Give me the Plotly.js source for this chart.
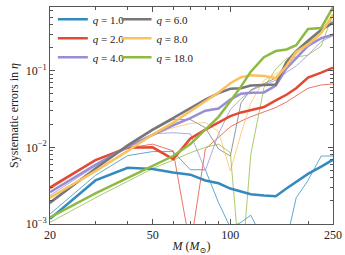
<!DOCTYPE html>
<html><head><meta charset="utf-8">
<script src="https://cdn.plot.ly/plotly-3.0.1.min.js"></script>
<style>html,body{margin:0;padding:0;background:#fff}#chart{width:345px;height:255px}</style>
</head><body><div id="chart"></div>
<script>
const masses = [20,30,40,50,60,70,80,90,100,110,120,135,150,165,180,200,225,250];
const qLabels = ["1.0","2.0","4.0","6.0","8.0","18.0"];
const colors = ["#348ABD","#E24A33","#988ED5","#777777","#FBC15E","#8EBA42"];

const q1_thick = [1.17e-3,3.7e-3,5.4e-3,5.2e-3,4.7e-3,4.4e-3,3.7e-3,3.4e-3,2.9e-3,2.65e-3,2.45e-3,2.35e-3,2.3e-3,2.9e-3,3.5e-3,4.5e-3,5.6e-3,6.9e-3];
const q1_thin  = [1.35e-3,4.3e-3,7.8e-3,8.8e-3,8.8e-3,5.1e-3,5.1e-3,1.9e-3,9e-4,1.05e-3,1.3e-3,6e-4,5e-4,6e-4,2.2e-3,3.7e-3,7.7e-3,7.7e-3];
const q2_thick = [3.0e-3,6.8e-3,9.9e-3,1.0e-2,7.0e-3,1.3e-2,1.7e-2,2.1e-2,2.55e-2,2.85e-2,3.05e-2,3.35e-2,4.1e-2,4.85e-2,5.9e-2,8.1e-2,9.4e-2,1.09e-1];
const q2_thin  = [2.85e-3,6.7e-3,9.8e-3,1.1e-2,9.0e-3,5e-4,9.5e-3,1.35e-2,1.85e-2,2.2e-2,2.5e-2,2.9e-2,3.3e-2,3.9e-2,4.7e-2,5.9e-2,6.5e-2,6.7e-2];
const q4_thick = [2.6e-3,5.9e-3,1.02e-2,1.47e-2,1.94e-2,2.4e-2,3.0e-2,3.2e-2,4.2e-2,5.0e-2,5.15e-2,5.2e-2,6.4e-2,1.07e-1,1.45e-1,2.1e-1,2.65e-1,2.95e-1];
const q4_thin  = [2.35e-3,5.7e-3,9.8e-3,1.5e-2,1.55e-2,1.5e-2,5.0e-3,1.5e-2,3.1e-2,4.3e-2,5.5e-2,6.5e-2,7.5e-2,9.5e-2,1.15e-1,1.6e-1,2.4e-1,2.85e-1];
const q6_thick = [1.9e-3,5.3e-3,1.06e-2,1.7e-2,2.4e-2,3.2e-2,4.2e-2,5.1e-2,5.8e-2,5.9e-2,6.4e-2,6.5e-2,6.6e-2,1.3e-1,1.8e-1,2.45e-1,3.4e-1,4.2e-1];
const q6_thin  = [1.85e-3,5.2e-3,1.04e-2,1.65e-2,2.3e-2,2.3e-2,1.8e-2,9.5e-3,7.7e-3,3.8e-2,5.6e-2,6.7e-2,8.0e-2,1.1e-1,1.7e-1,2.3e-1,3.3e-1,4.5e-1];
const q8_thick = [2.2e-3,4.9e-3,9.0e-3,1.47e-2,2.1e-2,2.95e-2,3.97e-2,5.2e-2,6.85e-2,8.2e-2,8.7e-2,8.5e-2,8.0e-2,1.15e-1,1.75e-1,2.2e-1,3.1e-1,5.4e-1];
const q8_thin  = [2.15e-3,4.8e-3,8.8e-3,1.45e-2,1.8e-2,2.05e-2,2.1e-2,1.6e-2,4.9e-3,1.5e-2,3.8e-2,7.5e-2,9.0e-2,1.15e-1,1.6e-1,2.1e-1,3.0e-1,5.0e-1];
const q18_thick = [1.22e-3,2.5e-3,4.0e-3,5.8e-3,7.7e-3,1.1e-2,1.7e-2,2.5e-2,4.0e-2,6.2e-2,9.7e-2,1.5e-1,1.8e-1,1.89e-1,2.15e-1,3.5e-1,3.6e-1,6.7e-1];
const q18_thin  = [1.05e-3,2.2e-3,3.6e-3,5.3e-3,6.8e-3,8.5e-3,1.0e-2,1.1e-2,8.5e-3,2e-4,8e-3,6e-2,1.05e-1,1.45e-1,1.5e-1,1.6e-1,2.1e-1,5.5e-1];

const thick = [q1_thick,q2_thick,q4_thick,q6_thick,q8_thick,q18_thick];
const thin  = [q1_thin,q2_thin,q4_thin,q6_thin,q8_thin,q18_thin];

const traces = [];
thin.forEach((ys,i)=>traces.push({x:masses,y:ys,mode:'lines',line:{color:colors[i],width:0.9},opacity:0.85,showlegend:false,hoverinfo:'skip'}));
thick.forEach((ys,i)=>traces.push({x:masses,y:ys,mode:'lines',line:{color:colors[i],width:2.5},name:'<i>q</i> = '+qLabels[i],legend: i<3?'legend':'legend2'}));

const font = {family:'Liberation Serif, DejaVu Serif, serif', size:12, color:'#222'};
const legendBase = {bgcolor:'rgba(0,0,0,0)',borderwidth:0,font:{family:font.family,size:11,color:'#222'},xanchor:'left',yanchor:'top',y:1.01,tracegroupgap:0};

const layout = {
  width:345,height:255,
  margin:{l:50,r:12,t:5,b:31},
  paper_bgcolor:'#fff',plot_bgcolor:'#fff',
  font:font,
  xaxis:{type:'log',range:[Math.log10(20),Math.log10(250)],
    tickvals:[20,50,100,250],ticktext:['20','50','100','250'],
    ticks:'inside',ticklen:5,tickcolor:'#555',showgrid:false,zeroline:false,
    showline:true,linecolor:'#555',linewidth:1,mirror:'allticks',
    minor:{tickvals:[30,40,60,70,80,90,200],ticks:'inside',ticklen:3,tickcolor:'#555',showgrid:false},
    tickfont:{size:12},
    title:{text:'<i>M</i> (<i>M</i><sub>⊙</sub>)',font:{size:12},standoff:2}},
  yaxis:{type:'log',range:[-3,-0.17],
    tickvals:[0.001,0.01,0.1],ticktext:['10<sup>−3</sup>','10<sup>−2</sup>','10<sup>−1</sup>'],
    ticks:'inside',ticklen:5,tickcolor:'#555',showgrid:false,zeroline:false,
    showline:true,linecolor:'#555',linewidth:1,mirror:'allticks',
    minor:{tickvals:[0.002,0.003,0.004,0.005,0.006,0.007,0.008,0.009,0.02,0.03,0.04,0.05,0.06,0.07,0.08,0.09,0.2,0.3,0.4,0.5,0.6],ticks:'inside',ticklen:3,tickcolor:'#555',showgrid:false},
    tickfont:{size:12},
    title:{text:'Systematic errors in <i>η</i>',font:{size:12},standoff:4}},
  legend:Object.assign({},legendBase,{x:0.01}),
  legend2:Object.assign({},legendBase,{x:0.235}),
  showlegend:true
};
Plotly.newPlot('chart',traces,layout,{staticPlot:true,displayModeBar:false});
</script></body></html>
